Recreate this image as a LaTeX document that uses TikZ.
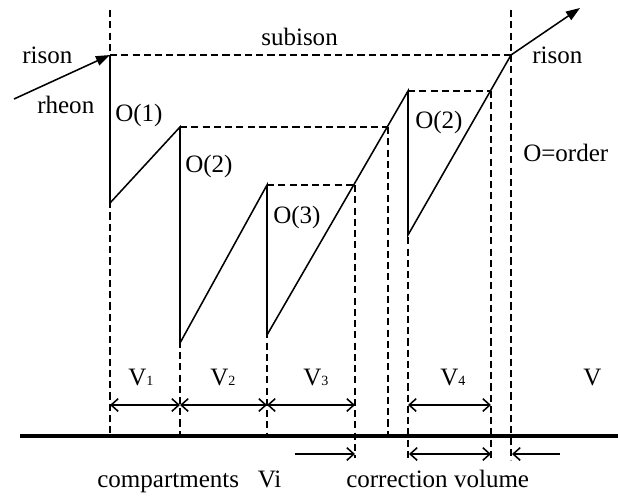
\documentclass[tikz,border=0pt]{standalone}
\usepackage{fontspec}
\setmainfont{Liberation Serif}
\usetikzlibrary{arrows.meta}

\begin{document}
\begin{tikzpicture}[x=0.025cm, y=-0.025cm,
    curve/.style={line width=1.1pt, line join=miter},
    guide/.style={line width=0.9pt, dash pattern=on 5pt off 3pt},
    flow/.style={line width=1.1pt, -{Triangle[length=10pt, width=7pt]}},
    dim/.style={line width=1.1pt, {Straight Barb[length=5pt, width=9pt]}-{Straight Barb[length=5pt, width=9pt]}},
    onedim/.style={line width=1.1pt, -{Straight Barb[length=5pt, width=9pt]}},
    lbl/.style={anchor=base west, inner sep=0pt, font=\fontsize{17.8}{20}\selectfont}
]
    \useasboundingbox (0,0) rectangle (618,495);

    % corner points of the curve
    \coordinate (a0) at (110,55);
    \coordinate (a1) at (110,203);
    \coordinate (a2) at (180,127);
    \coordinate (a3) at (180,343);
    \coordinate (a4) at (267,185);
    \coordinate (a5) at (267,335);
    \coordinate (a6) at (408,91);
    \coordinate (a7) at (408,235);
    \coordinate (a8) at (511,55);
    \coordinate (in) at (14,99);
    \coordinate (out) at (580,8);
    \coordinate (c3) at (355,185);
    \coordinate (c2) at (388,127);
    \coordinate (c4) at (491,91);

    % guide lines
    \draw[guide] (110,10) -- (110,436);
    \draw[guide] (a2) -- (180,436);
    \draw[guide] (a4) -- (267,436);
    \draw[guide] (c3) -- (355,458);
    \draw[guide] (c2) -- (388,436);
    \draw[guide] (a6) -- (408,460);
    \draw[guide] (c4) -- (491,460);
    \draw[guide] (511,10) -- (511,460);
    \draw[guide] (a0) -- (a8);
    \draw[guide] (a2) -- (c2);
    \draw[guide] (a4) -- (c3);
    \draw[guide] (a6) -- (c4);

    % curve
    \draw[flow] (in) -- (a0);
    \draw[curve] (a0) -- (a1) -- (a2) -- (a3) -- (a4) -- (a5) -- (a6) -- (a7) -- (a8);
    \draw[flow] (a8) -- (out);

    % base line
    \draw[line width=2.2pt] (20,436) -- (618,436);

    % volumes
    \coordinate (v0) at (110,405);
    \coordinate (v1) at (180,405);
    \coordinate (v2) at (267,405);
    \coordinate (v3) at (355,405);
    \coordinate (v4) at (408,405);
    \coordinate (v5) at (491,405);
    \draw[dim] (v0) -- (v1);
    \draw[dim] (v1) -- (v2);
    \draw[dim] (v2) -- (v3);
    \draw[dim] (v4) -- (v5);

    \coordinate (w0) at (295,454);
    \coordinate (w1) at (355,454);
    \coordinate (w2) at (409,454);
    \coordinate (w3) at (491,454);
    \coordinate (w4) at (560,454);
    \coordinate (w5) at (512,454);
    \draw[onedim] (w0) -- (w1);
    \draw[dim] (w2) -- (w3);
    \draw[onedim] (w4) -- (w5);

    % labels
    \node[lbl] (risonL) at (22,63) {rison};
    \node[lbl] (rheon) at (37,113) {rheon};
    \node[lbl] (subison) at (261,45) {subison};
    \node[lbl] (o1) at (115,121) {O(1)};
    \node[lbl] (o2) at (185,172) {O(2)};
    \node[lbl] (o3) at (273,223) {O(3)};
    \node[lbl] (o2b) at (415,128) {O(2)};
    \node[lbl] (risonR) at (532,63) {rison};
    \node[lbl] (order) at (523,161) {O=order};
    \node[lbl] (lv1) at (128,385) {V{\fontsize{10}{10}\selectfont 1}};
    \node[lbl] (lv2) at (210,385) {V{\fontsize{10}{10}\selectfont 2}};
    \node[lbl] (lv3) at (303,385) {V{\fontsize{10}{10}\selectfont 3}};
    \node[lbl] (lv4) at (440,385) {V{\fontsize{10}{10}\selectfont 4}};
    \node[lbl] (lv) at (583,385) {V};
    \node[lbl] (comp) at (97,487) {compartments\hspace{0.5em} Vi};
    \node[lbl] (corr) at (346,487) {correction volume};
\end{tikzpicture}
\end{document}
